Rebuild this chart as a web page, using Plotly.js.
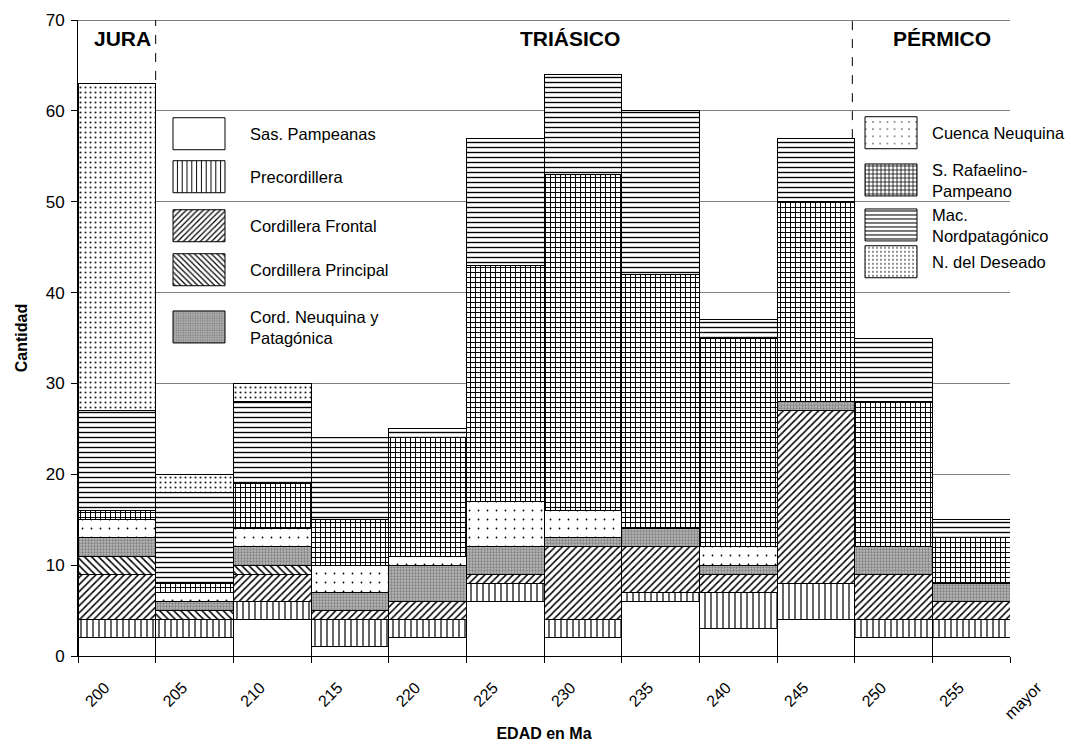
<!DOCTYPE html>
<html>
<head>
<meta charset="utf-8">
<script src="https://cdn.plot.ly/plotly-3.0.1.min.js"></script>
<style>
html,body{margin:0;padding:0;background:#fff;}
#chart{width:1071px;height:745px;}
</style>
</head>
<body>
<div id="chart"></div>
<script>
// ---- data ----
var categories = ['200','205','210','215','220','225','230','235','240','245','250','255'];
var tickLabels = ['200','205','210','215','220','225','230','235','240','245','250','255','mayor'];

var sasPampeanas      = [2, 2, 4, 1, 2, 6, 2, 6, 3, 4, 2, 2];
var precordillera     = [2, 2, 2, 3, 2, 2, 2, 1, 4, 4, 2, 2];
var cordFrontal       = [5, 0, 3, 1, 2, 1, 8, 5, 2, 19, 5, 2];
var cordPrincipal     = [2, 1, 1, 0, 0, 0, 0, 0, 0, 0, 0, 0];
var cordNeuqPatag     = [2, 1, 2, 2, 4, 3, 1, 2, 1, 1, 3, 2];
var cuencaNeuquina    = [2, 1, 2, 3, 1, 5, 3, 0, 2, 0, 0, 0];
var sRafaelino        = [1, 1, 5, 5, 13, 26, 37, 28, 23, 22, 16, 5];
var macNordpatagonico = [11, 10, 9, 9, 1, 14, 11, 18, 2, 7, 7, 2];
var nDeseado          = [36, 2, 2, 0, 0, 0, 0, 0, 0, 0, 0, 0];

var seriesNames = ['Sas. Pampeanas','Precordillera','Cordillera Frontal','Cordillera Principal',
  'Cord. Neuquina y<br>Patagónica','Cuenca Neuquina','S. Rafaelino-<br>Pampeano',
  'Mac.<br>Nordpatagónico','N. del Deseado'];
var seriesValues = [sasPampeanas, precordillera, cordFrontal, cordPrincipal, cordNeuqPatag,
  cuencaNeuquina, sRafaelino, macNordpatagonico, nDeseado];

var periodLabels = ['JURA','TRIÁSICO','PÉRMICO'];

// ---- styling ----
var FONT = 'Arial, "Liberation Sans", Helvetica, sans-serif';
var patterns = [
  {shape:'', bgcolor:'#ffffff'},
  {shape:'|', fgcolor:'#000', bgcolor:'#fff', size:6, solidity:0.2},
  {shape:'/', fgcolor:'#000', bgcolor:'#fff', size:5, solidity:0.3},
  {shape:'\\', fgcolor:'#000', bgcolor:'#fff', size:5, solidity:0.3},
  {shape:'.', fgcolor:'#808080', bgcolor:'#b8b8b8', size:3, solidity:0.45},
  {shape:'.', fgcolor:'#000', bgcolor:'#fff', size:9, solidity:0.03},
  {shape:'+', fgcolor:'#000', bgcolor:'#fff', size:5, solidity:0.35},
  {shape:'-', fgcolor:'#000', bgcolor:'#fff', size:5, solidity:0.27},
  {shape:'.', fgcolor:'#222', bgcolor:'#fff', size:5, solidity:0.14}
];
// legend placement (page px): [left, centerY, itemwidth]
var legendPos = [[148,134,92],[148,177,92],[148,226,92],[148,270,92],[148,327,92],
                 [850,133,72],[850,180,72],[850,225,72],[850,262,72]];
var PL = 78, PR = 1010, PT = 20, PB = 656;

var xCenters = categories.map(function(c, i){ return i + 0.5; });

var traces = seriesValues.map(function(vals, k){
  var p = patterns[k];
  var marker = {color: '#ffffff', line:{color:'#000', width:1}};
  if (p.shape) marker.pattern = {shape:p.shape, fgcolor:p.fgcolor, bgcolor:p.bgcolor,
                                 size:p.size, solidity:p.solidity, fillmode:'replace'};
  else marker.color = p.bgcolor;
  return {
    type:'bar', x:xCenters, y:vals, width:1, name:seriesNames[k],
    marker:marker, legend: k === 0 ? 'legend' : 'legend' + (k+1),
    customdata: categories, hovertemplate:'%{customdata}: %{y}<extra>%{fullData.name}</extra>'
  };
});

var layout = {
  width:1071, height:745,
  margin:{l:PL, r:1071-PR, t:PT, b:745-PB, autoexpand:false},
  paper_bgcolor:'#fff', plot_bgcolor:'#fff',
  barmode:'stack', bargap:0,
  font:{family:FONT, color:'#000', size:16},
  xaxis:{
    range:[0,12], tickmode:'array',
    tickvals: tickLabels.map(function(t,i){return i;}),
    ticktext: tickLabels, tickangle:-45,
    ticks:'outside', ticklen:6, tickcolor:'#000', tickwidth:1,
    ticklabelshift:27, ticklabelstandoff:9,
    showline:true, linecolor:'#000', linewidth:1, showgrid:false, zeroline:false,
    tickfont:{size:16},
    title:{text:'<b>EDAD en Ma</b>', font:{size:16}, standoff:6}
  },
  yaxis:{
    range:[0,70], dtick:10, tick0:0,
    ticks:'outside', ticklen:6, tickcolor:'#000', tickwidth:1, ticklabelstandoff:3,
    showline:true, linecolor:'#000', linewidth:1,
    showgrid:true, gridcolor:'#808080', gridwidth:1, zeroline:false,
    tickfont:{size:17},
    title:{text:'<b>Cantidad</b>', font:{size:16}, standoff:14}
  },
  shapes:[
    {type:'line', xref:'x', yref:'y', x0:0, x1:12, y0:70, y1:70, line:{color:'#000', width:1}},
    {type:'line', xref:'x', yref:'y', x0:1, x1:1, y0:63.4, y1:70, line:{color:'#000', width:1, dash:'dash'}},
    {type:'line', xref:'x', yref:'y', x0:9.97, x1:9.97, y0:57, y1:70, line:{color:'#000', width:1, dash:'dash'}}
  ],
  annotations:[
    {text:'<b>'+periodLabels[0]+'</b>', x:0.57, y:68.0, xref:'x', yref:'y', showarrow:false, font:{size:21}},
    {text:'<b>'+periodLabels[1]+'</b>', x:6.33, y:68.0, xref:'x', yref:'y', showarrow:false, font:{size:21}},
    {text:'<b>'+periodLabels[2]+'</b>', x:11.13, y:68.0, xref:'x', yref:'y', showarrow:false, font:{size:21}}
  ],
  showlegend:true
};

legendPos.forEach(function(pos, k){
  var key = k === 0 ? 'legend' : 'legend' + (k+1);
  layout[key] = {
    xref:'paper', yref:'paper',
    x: (pos[0]-PL)/(PR-PL), y: (PB-pos[1])/(PB-PT), xanchor:'left', yanchor:'middle',
    bgcolor:'rgba(0,0,0,0)', borderwidth:0, itemwidth:pos[2],
    font:{size:16.5, family:FONT, color:'#000'}, valign:'middle',
    itemclick:false, itemdoubleclick:false
  };
});

Plotly.newPlot('chart', traces, layout, {displayModeBar:false, staticPlot:true}).then(function(gd){
  // enlarge legend swatches to match the reference keys
  var paths = gd.querySelectorAll('.legendpoints path');
  paths.forEach(function(p){ p.setAttribute('d','M26,16H-26V-16H26Z'); });
});
</script>
</body>
</html>
